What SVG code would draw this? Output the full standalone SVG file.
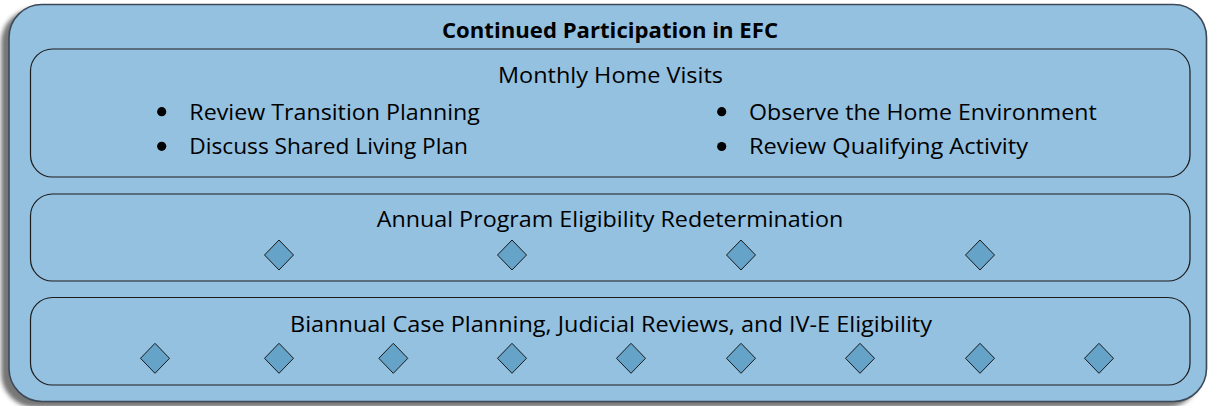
<svg xmlns="http://www.w3.org/2000/svg" xmlns:xlink="http://www.w3.org/1999/xlink" width="1208" height="406" viewBox="0 0 1208 406">
<style>
.box{fill:#94c1e0;stroke:#1c1c1c;stroke-width:1.2}
.outer{fill:#94c1e0;stroke:#3d4a58;stroke-width:1.6}
.t{font-family:"Open Sans",Lato,"Liberation Sans",sans-serif;font-size:22.5px;fill:#000}
.h{font-family:"Open Sans",Lato,"Liberation Sans",sans-serif;font-size:20.5px;font-weight:bold;fill:#000}
.dm{fill:#65a3c9;stroke:#1a1a1a;stroke-width:1}
.b{fill:#000}
</style>
<defs>
<filter id="sh" x="-5%" y="-5%" width="110%" height="115%">
<feDropShadow dx="-7" dy="5" stdDeviation="2.2" flood-color="#3a3a3a" flood-opacity="0.7"/>
</filter>
<polygon id="d" class="dm" points="0,-15 14.5,0 0,15 -14.5,0"/>
</defs>
<g id="outer">
<rect class="outer" x="9" y="4.5" width="1197.5" height="397" rx="33" ry="33" filter="url(#sh)"/>
<text class="h" x="610" y="38.3" text-anchor="middle" textLength="336" lengthAdjust="spacingAndGlyphs">Continued Participation in EFC</text>
</g>
<g id="monthly">
<rect class="box" x="30.5" y="49" width="1159.5" height="128" rx="22" ry="22"/>
<text class="t" x="610.5" y="82.7" text-anchor="middle" textLength="225" lengthAdjust="spacingAndGlyphs">Monthly Home Visits</text>
<circle class="b" cx="161.7" cy="111.7" r="4.6"/>
<circle class="b" cx="161.7" cy="146.3" r="4.6"/>
<circle class="b" cx="721.7" cy="111.7" r="4.6"/>
<circle class="b" cx="721.7" cy="146.5" r="4.6"/>
<text class="t" x="189.3" y="119.5" textLength="290.7" lengthAdjust="spacingAndGlyphs">Review Transition Planning</text>
<text class="t" x="189.3" y="154.3" textLength="278.7" lengthAdjust="spacingAndGlyphs">Discuss Shared Living Plan</text>
<text class="t" x="749" y="119.5" textLength="347.7" lengthAdjust="spacingAndGlyphs">Observe the Home Environment</text>
<text class="t" x="749" y="154.3" textLength="279" lengthAdjust="spacingAndGlyphs">Review Qualifying Activity</text>
</g>
<g id="annual">
<rect class="box" x="30.5" y="194" width="1159.5" height="87" rx="22" ry="22"/>
<text class="t" x="610" y="226.7" text-anchor="middle" textLength="466.6" lengthAdjust="spacingAndGlyphs">Annual Program Eligibility Redetermination</text>
<use xlink:href="#d" x="279" y="255"/>
<use xlink:href="#d" x="512" y="255"/>
<use xlink:href="#d" x="741" y="255"/>
<use xlink:href="#d" x="980" y="255"/>
</g>
<g id="biannual">
<rect class="box" x="30.5" y="297.5" width="1159.5" height="87.5" rx="22" ry="22"/>
<text class="t" x="611" y="331.7" text-anchor="middle" textLength="642" lengthAdjust="spacingAndGlyphs">Biannual Case Planning, Judicial Reviews, and IV-E Eligibility</text>
<use xlink:href="#d" x="155" y="358.3"/>
<use xlink:href="#d" x="279" y="358.3"/>
<use xlink:href="#d" x="393.3" y="358.3"/>
<use xlink:href="#d" x="512" y="358.3"/>
<use xlink:href="#d" x="631" y="358.3"/>
<use xlink:href="#d" x="741" y="358.3"/>
<use xlink:href="#d" x="860" y="358.3"/>
<use xlink:href="#d" x="980" y="358.3"/>
<use xlink:href="#d" x="1099" y="358.3"/>
</g>
<g id="connectors"></g>
</svg>
